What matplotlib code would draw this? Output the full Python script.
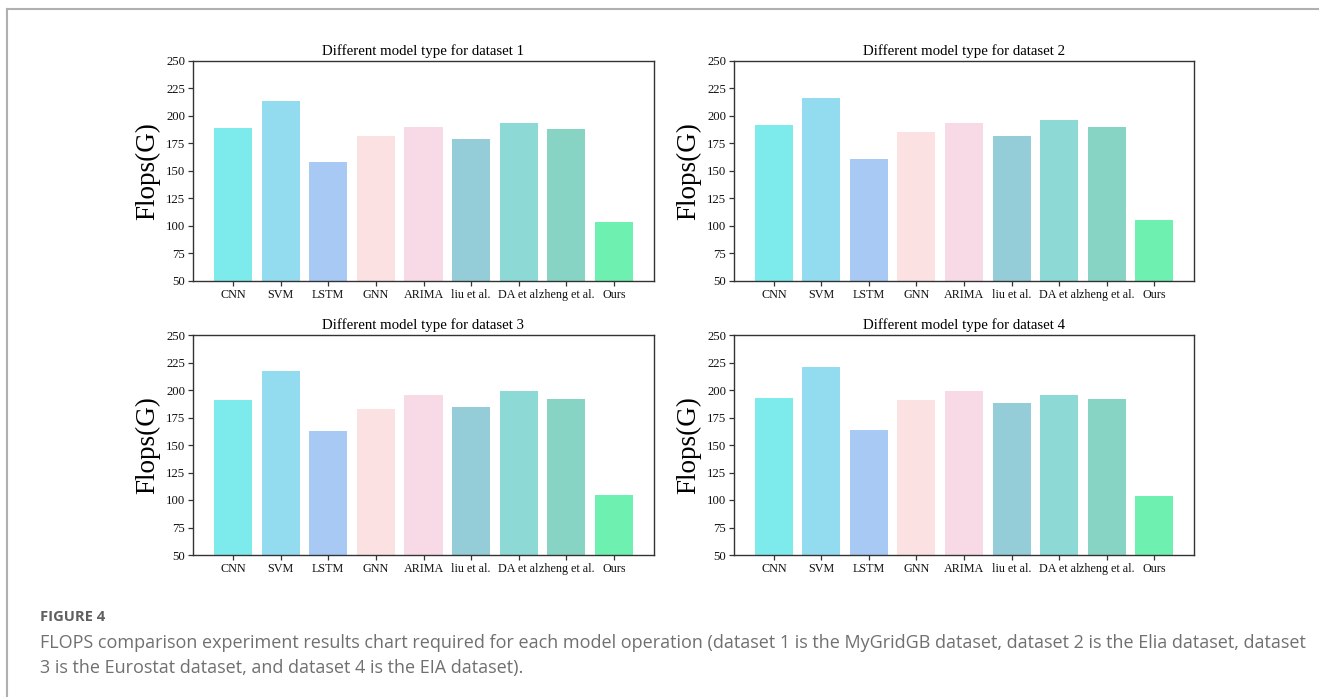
import matplotlib
matplotlib.use("Agg")
import matplotlib.pyplot as plt
from matplotlib.lines import Line2D

models = ["CNN", "SVM", "LSTM", "GNN", "ARIMA", "liu et al.", "DA et al", "zheng et al.", "Ours"]
tick_labels = ["CNN", "SVM", "LSTM", "GNN", "ARIMA", "liu et al.", "DA et al", "zheng et al.", "Ours"]
dataset1 = [189.5, 213.5, 158, 181.5, 190, 179.5, 193.5, 188.5, 103.5]
dataset2 = [191.5, 216, 160.5, 185.5, 193.5, 182, 196, 190, 105]
dataset3 = [190.5, 217, 162.5, 182.5, 195.5, 185, 199.5, 192, 105]
dataset4 = [193, 220.5, 164, 190.5, 199.5, 188, 195.5, 191.5, 103.5]
titles = ["Different model type for dataset 1", "Different model type for dataset 2",
          "Different model type for dataset 3", "Different model type for dataset 4"]
bar_colors = ["#7DEBEB", "#93DCF0", "#A7C9F3", "#FCE1E3", "#F7DAE5",
              "#94CDD8", "#8DD9D5", "#88D4C4", "#6EF0B0"]
y_ticks = [50, 75, 100, 125, 150, 175, 200, 225, 250]

W, H = 1319, 697
fig = plt.figure(figsize=(W / 100, H / 100), dpi=100)

# axes boxes in pixels: left, top, right, bottom
boxes = [(193, 61, 654, 281), (734, 61, 1194, 281),
         (193, 335, 654, 555), (734, 335, 1194, 555)]
series = [dataset1, dataset2, dataset3, dataset4]

serif = ["Liberation Serif", "DejaVu Serif"]
for (l, t, r, b), vals, title in zip(boxes, series, titles):
    ax = fig.add_axes([l / W, 1 - b / H, (r - l) / W, (b - t) / H])
    x = list(range(len(models)))
    ax.bar(x, vals, width=0.8, color=bar_colors)
    ax.set_ylim(50, 250)
    ax.set_yticks(y_ticks)
    ax.set_xticks(x)
    ax.set_xticklabels(tick_labels, fontfamily=serif, fontsize=8.7)
    for lab in ax.get_yticklabels():
        lab.set_fontfamily(serif)
        lab.set_fontsize(9.2)
    ax.set_title(title, fontfamily=serif, fontsize=10.7, pad=4)
    ax.set_ylabel("Flops(G)", fontfamily=serif, fontsize=19.5, labelpad=4)
    for s in ax.spines.values():
        s.set_color("#333333")
        s.set_linewidth(1.0)
    ax.tick_params(length=3.5, width=0.9, color="#333333", labelcolor="#111111", pad=2)

# border lines (top and left)
fig.add_artist(Line2D([7 / W, 7 / W], [0, 1 - 9 / H], transform=fig.transFigure,
                      color="#b0b0b0", lw=1.5))
fig.add_artist(Line2D([7 / W, 1], [1 - 9 / H, 1 - 9 / H], transform=fig.transFigure,
                      color="#b0b0b0", lw=1.5))

cap_font = ["Open Sans", "DejaVu Sans"]
fig.text(40 / W, 1 - 617 / H, "FIGURE 4", fontfamily=cap_font, fontsize=10.6,
         fontweight="bold", color="#606060", va="center", ha="left")
fig.text(40 / W, 1 - 643 / H,
         "FLOPS comparison experiment results chart required for each model operation (dataset 1 is the MyGridGB dataset, dataset 2 is the Elia dataset, dataset",
         fontfamily=cap_font, fontsize=12.95, color="#707070", va="center", ha="left")
fig.text(40 / W, 1 - 668 / H,
         "3 is the Eurostat dataset, and dataset 4 is the EIA dataset).",
         fontfamily=cap_font, fontsize=12.95, color="#707070", va="center", ha="left")

fig.savefig("out.png", dpi=100)
